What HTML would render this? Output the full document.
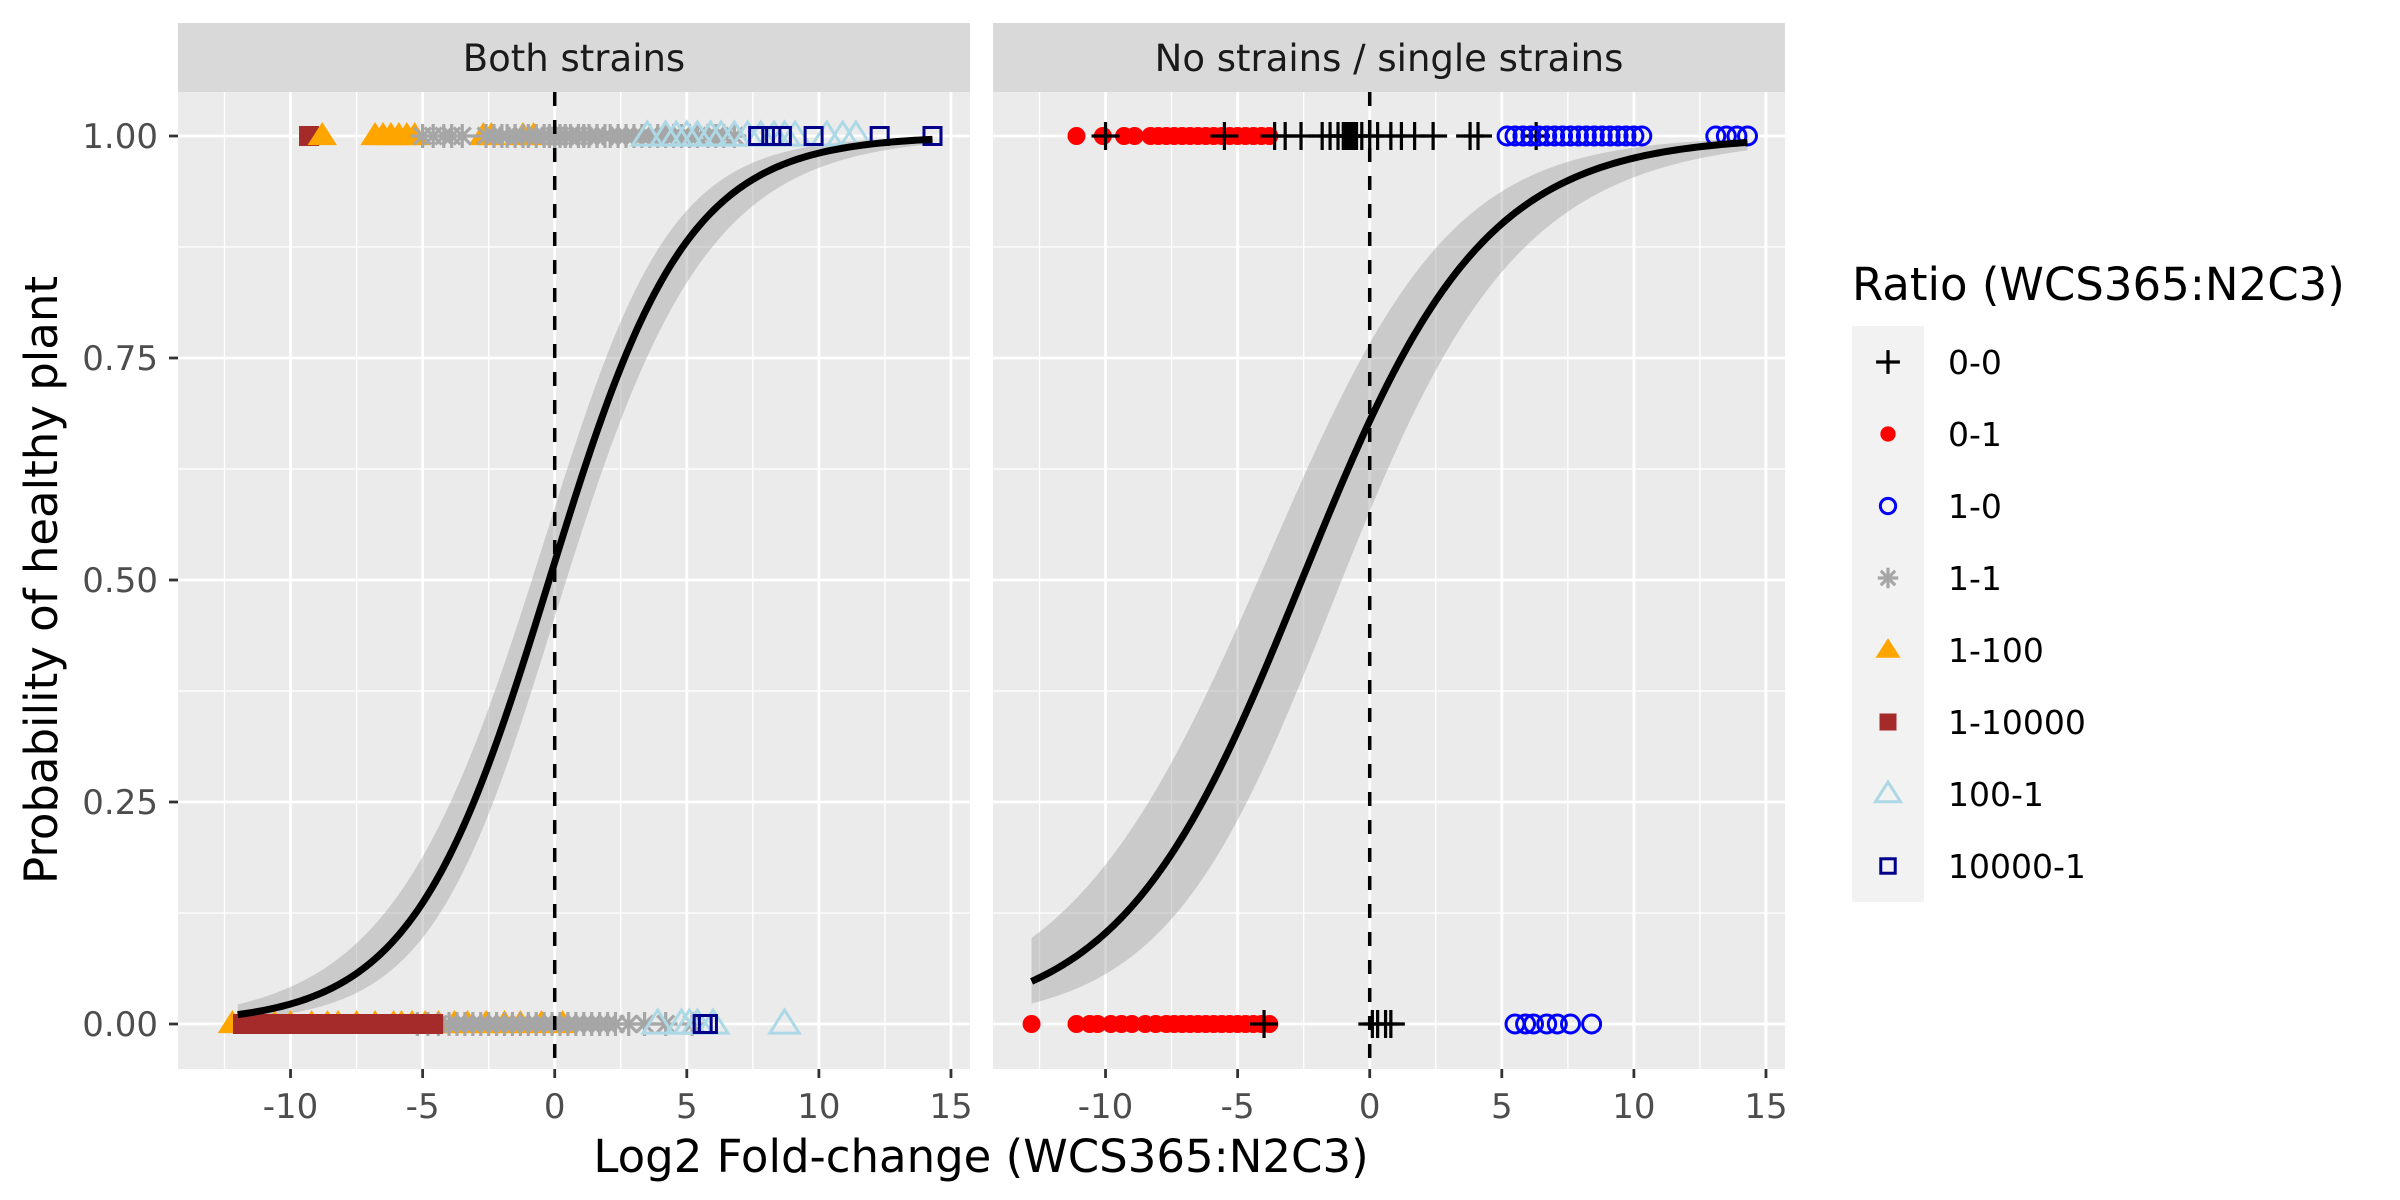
<!DOCTYPE html>
<html><head><meta charset="utf-8">
<style>
html,body{margin:0;padding:0;background:#fff;}
svg{display:block;font-family:"DejaVu Sans","Liberation Sans",sans-serif;}
</style></head>
<body>
<svg id="chart" width="2400" height="1200" viewBox="0 0 2400 1200" xmlns="http://www.w3.org/2000/svg">
<rect x="0" y="0" width="2400" height="1200" fill="#fff"/>
<g id="panels"></g>
<text x="981" y="1172" font-size="45" text-anchor="middle" fill="#000">Log2 Fold-change (WCS365:N2C3)</text>
<text transform="translate(57,580) rotate(-90)" font-size="45" text-anchor="middle" fill="#000">Probability of healthy plant</text>
<g id="legend"></g>
</svg>
<script>
// ---- data ----
const categories = ["0-0","0-1","1-0","1-1","1-100","1-10000","100-1","10000-1"];
const panelTitles = ["Both strains","No strains / single strains"];
const xTicks = [-10,-5,0,5,10,15];
const yTicks = [0,0.25,0.5,0.75,1];
const yTickLabels = ["0.00","0.25","0.50","0.75","1.00"];
// logistic fits: [intercept, slope, xmin, xmax]
const fitP1 = [0.08, 0.385, -12, 14.3];
const fitP2 = [0.75, 0.292, -12.8, 14.3];
// standard error params (logit scale): [base variance, quad coef, centre]
const seP1 = [0.016, 0.0009, 0];
const seP2 = [0.05, 0.0006, 0];
// Panel 1 (both strains) points, by outcome
const p1_1_100_y1 = [-8.8,-6.8,-6.5,-6.2,-5.9,-5.6,-5.3,-2.7,-2.4,-1.2,-0.8];
const p1_1_10000_y1 = [-9.3];
const p1_1_1_y1 = [-5.0,-4.6,-4.2,-3.9,-3.5,-2.6,-2.3,-2.0,-1.8,-1.5,-1.2,-1.0,-0.7,-0.4,-0.2,0.0,0.2,0.4,0.6,0.9,1.1,1.3,1.6,1.9,2.1,2.4,2.7,3.0,3.3,3.6,3.9,4.2,4.5,4.8,5.1,5.4,5.8,6.1,6.4,6.8];
const p1_100_1_y1 = [3.5,4.2,4.6,5.0,5.4,5.9,6.3,6.8,7.3,7.8,8.3,8.7,9.1,10.3,10.9,11.4];
const p1_10000_1_y1 = [7.7,8.2,8.6,9.8,12.3,14.3];
const p1_1_10000_y0 = [-11.8,-11.3,-10.7,-10.1,-9.6,-9.1,-8.6,-8.1,-7.5,-7.0,-6.5,-6.0,-5.5,-5.0,-4.6];
const p1_1_100_y0 = [-12.2,-11.4,-10.6,-10.0,-9.2,-8.6,-8.2,-7.5,-6.8,-6.1,-5.8,-5.4,-4.9,-4.4,-3.8,-3.3,-2.6,-1.9,-1.3,-0.5,0.3];
const p1_1_1_y0 = [-5.2,-4.8,-4.4,-4.0,-3.7,-3.4,-3.1,-2.8,-2.5,-2.2,-1.9,-1.6,-1.3,-1.0,-0.7,-0.4,-0.1,0.2,0.5,0.8,1.1,1.4,1.7,2.0,2.3,2.8,3.4,4.2,5.2];
const p1_100_1_y0 = [3.9,4.8,5.1,5.4,6.0,8.7];
const p1_10000_1_y0 = [5.6,5.8];
// Panel 2 (no strains / single strains)
const p2_0_1_y1 = [-11.1,-10.1,-9.3,-8.9,-8.3,-8.0,-7.7,-7.4,-7.1,-6.8,-6.5,-6.2,-5.9,-5.6,-5.3,-5.0,-4.7,-4.4,-4.1,-3.8];
const p2_0_0_y1 = [-10.0,-5.5,-3.6,-3.2,-2.6,-1.8,-1.5,-1.2,-1.0,-0.9,-0.8,-0.7,-0.6,-0.5,-0.3,0.0,0.3,0.8,1.2,1.7,2.4,3.8,4.1,6.3];
const p2_1_0_y1 = [5.2,5.5,5.8,6.1,6.4,6.7,7.0,7.3,7.6,7.9,8.2,8.5,8.8,9.1,9.4,9.7,10.0,10.3,13.1,13.5,13.9,14.3];
const p2_0_1_y0 = [-12.8,-11.1,-10.6,-10.3,-9.8,-9.4,-9.0,-8.5,-8.1,-7.7,-7.4,-7.1,-6.8,-6.5,-6.2,-5.9,-5.6,-5.3,-5.0,-4.7,-4.4,-4.1,-3.8];
const p2_0_0_y0 = [-4.0,0.1,0.3,0.6,0.8];
const p2_1_0_y0 = [5.5,5.9,6.2,6.7,7.1,7.6,8.4];

// ---- layout ----
const NS = "http://www.w3.org/2000/svg";
const panelsX = [178, 993];
const panelW = 792, plotTop = 92, plotBottom = 1069;
const xDom = [-14.26, 15.72];
function xScale(v, p){ return panelsX[p] + (v - xDom[0]) / (xDom[1]-xDom[0]) * panelW; }
function yScale(v){ return 1024 - v * 888; }
function mk(tag, attrs, parent){ const e = document.createElementNS(NS, tag); for (const k in attrs) e.setAttribute(k, attrs[k]); parent.appendChild(e); return e; }

const colors = {"0-0":"#000","0-1":"#ff0000","1-0":"#0000ff","1-1":"#a6a6a6","1-100":"#ffa500","1-10000":"#a52a2a","100-1":"#add8e6","10000-1":"#00008b"};

function drawMarker(parent, cat, cx, cy, s){
  const c = colors[cat]; let g;
  if (cat==="0-0"){ g = mk("path",{d:`M${cx-14*s},${cy}H${cx+14*s}M${cx},${cy-14*s}V${cy+14*s}`,stroke:c,"stroke-width":3.2,fill:"none"},parent); }
  else if (cat==="0-1"){ g = mk("circle",{cx:cx,cy:cy,r:9*s,fill:c},parent); }
  else if (cat==="1-0"){ g = mk("circle",{cx:cx,cy:cy,r:9*s,fill:"none",stroke:c,"stroke-width":3},parent); }
  else if (cat==="1-1"){ const r=12*s, d=r*0.707;
    g = mk("path",{d:`M${cx-r},${cy}H${cx+r}M${cx},${cy-r}V${cy+r}M${cx-d},${cy-d}L${cx+d},${cy+d}M${cx-d},${cy+d}L${cx+d},${cy-d}`,stroke:c,"stroke-width":3.2,fill:"none"},parent); }
  else if (cat==="1-100"){ const r=14*s; g = mk("path",{d:`M${cx},${cy-r}L${cx+r*1.05},${cy+r*0.65}L${cx-r*1.05},${cy+r*0.65}Z`,fill:c},parent); }
  else if (cat==="1-10000"){ const r=10*s; g = mk("rect",{x:cx-r,y:cy-r,width:2*r,height:2*r,fill:c},parent); }
  else if (cat==="100-1"){ const r=14*s; g = mk("path",{d:`M${cx},${cy-r}L${cx+r*1.05},${cy+r*0.65}L${cx-r*1.05},${cy+r*0.65}Z`,fill:"none",stroke:c,"stroke-width":3},parent); }
  else { const r=8.5*s; g = mk("rect",{x:cx-r,y:cy-r,width:2*r,height:2*r,fill:"none",stroke:c,"stroke-width":3},parent); }
  return g;
}

const panelsG = document.getElementById("panels");
const fits = [fitP1, fitP2], ses = [seP1, seP2];
const pointSets = [
  [["1-100",p1_1_100_y0,0],["1-1",p1_1_1_y0,0],["1-10000",p1_1_10000_y0,0],["100-1",p1_100_1_y0,0],["10000-1",p1_10000_1_y0,0],
   ["1-10000",p1_1_10000_y1,1],["1-100",p1_1_100_y1,1],["1-1",p1_1_1_y1,1],["100-1",p1_100_1_y1,1],["10000-1",p1_10000_1_y1,1]],
  [["0-1",p2_0_1_y0,0],["0-0",p2_0_0_y0,0],["1-0",p2_1_0_y0,0],
   ["0-1",p2_0_1_y1,1],["0-0",p2_0_0_y1,1],["1-0",p2_1_0_y1,1]]
];

for (let p=0;p<2;p++){
  const g = mk("g",{},panelsG);
  
  
  const x0 = panelsX[p];
  mk("rect",{x:x0,y:plotTop,width:panelW,height:plotBottom-plotTop,fill:"#ebebeb"},g);
  const strip = mk("rect",{x:x0,y:23,width:panelW,height:69,fill:"#d9d9d9"},g);
  
  
  const st = mk("text",{x:x0+panelW/2,y:71,"font-size":37,"text-anchor":"middle",fill:"#1a1a1a"},g);
  st.textContent = panelTitles[p];
  
  
  for (let i=0;i<xTicks.length;i++){
    const mv = xTicks[i]-2.5; const xx = xScale(mv,p);
    if (xx>x0 && xx<x0+panelW) mk("line",{x1:xx,x2:xx,y1:plotTop,y2:plotBottom,stroke:"#fff","stroke-width":1.3},g);
  }
  for (let i=0;i<yTicks.length-1;i++){
    const yy = yScale(yTicks[i]+0.125);
    mk("line",{x1:x0,x2:x0+panelW,y1:yy,y2:yy,stroke:"#fff","stroke-width":1.3},g);
  }
  for (const t of xTicks){ const xx=xScale(t,p); mk("line",{x1:xx,x2:xx,y1:plotTop,y2:plotBottom,stroke:"#fff","stroke-width":2.8},g); }
  for (const t of yTicks){ const yy=yScale(t); mk("line",{x1:x0,x2:x0+panelW,y1:yy,y2:yy,stroke:"#fff","stroke-width":2.8},g); }
  const f = fits[p], se = ses[p];
  let up=[], lo=[], mid=[];
  const sig = z=>1/(1+Math.exp(-z));
  for (let i=0;i<=200;i++){
    const xv = f[2] + (f[3]-f[2])*i/200;
    const eta = f[0]+f[1]*xv;
    const s = Math.sqrt(se[0]+se[1]*(xv-se[2])*(xv-se[2]));
    mid.push([xScale(xv,p),yScale(sig(eta))]);
    up.push([xScale(xv,p),yScale(sig(eta+1.96*s))]);
    lo.push([xScale(xv,p),yScale(sig(eta-1.96*s))]);
  }
  const rib = mk("path",{d:"M"+up.map(q=>q.join(",")).join("L")+"L"+lo.reverse().map(q=>q.join(",")).join("L")+"Z",fill:"#999999","fill-opacity":0.4},g);
  
  
  for (const [cat, arr, yv] of pointSets[p]){
    for (const v of arr){
      const m = drawMarker(g, cat, xScale(v,p), yScale(yv), 1);
      
      
    }
  }
  const curve = mk("path",{d:"M"+mid.map(q=>q.join(",")).join("L"),fill:"none",stroke:"#000","stroke-width":7},g);
  
  
  const vl = mk("line",{x1:xScale(0,p),x2:xScale(0,p),y1:plotTop,y2:plotBottom,stroke:"#000","stroke-width":3.5,"stroke-dasharray":"14,14"},g);
  
  
  for (const t of xTicks){
    const xx = xScale(t,p);
    mk("line",{x1:xx,x2:xx,y1:plotBottom,y2:plotBottom+9,stroke:"#333","stroke-width":2.8},g);
    const tl = mk("text",{x:xx,y:1118,"font-size":34,"text-anchor":"middle",fill:"#4d4d4d"},g);
    tl.textContent = t;
    
    
  }
}
for (let i=0;i<yTicks.length;i++){
  const yy = yScale(yTicks[i]);
  mk("line",{x1:169,x2:178,y1:yy,y2:yy,stroke:"#333","stroke-width":2.8},panelsG);
  const tl = mk("text",{x:158,y:yy+12,"font-size":34,"text-anchor":"end",fill:"#4d4d4d"},panelsG);
  tl.textContent = yTickLabels[i];
  
  
}
const lg = document.getElementById("legend");
const lt = mk("text",{x:1852,y:300,"font-size":45,fill:"#000"},lg);
lt.textContent = "Ratio (WCS365:N2C3)";


for (let i=0;i<categories.length;i++){
  const yy = 326 + 72*i;
  const eg = mk("g",{},lg);
  
  
  mk("rect",{x:1852,y:yy,width:72,height:72,fill:"#f2f2f2"},eg);
  drawMarker(eg, categories[i], 1888, yy+36, 0.85);
  const t = mk("text",{x:1948,y:yy+48,"font-size":33,fill:"#000"},eg);
  t.textContent = categories[i];
}
</script>
</body></html>
